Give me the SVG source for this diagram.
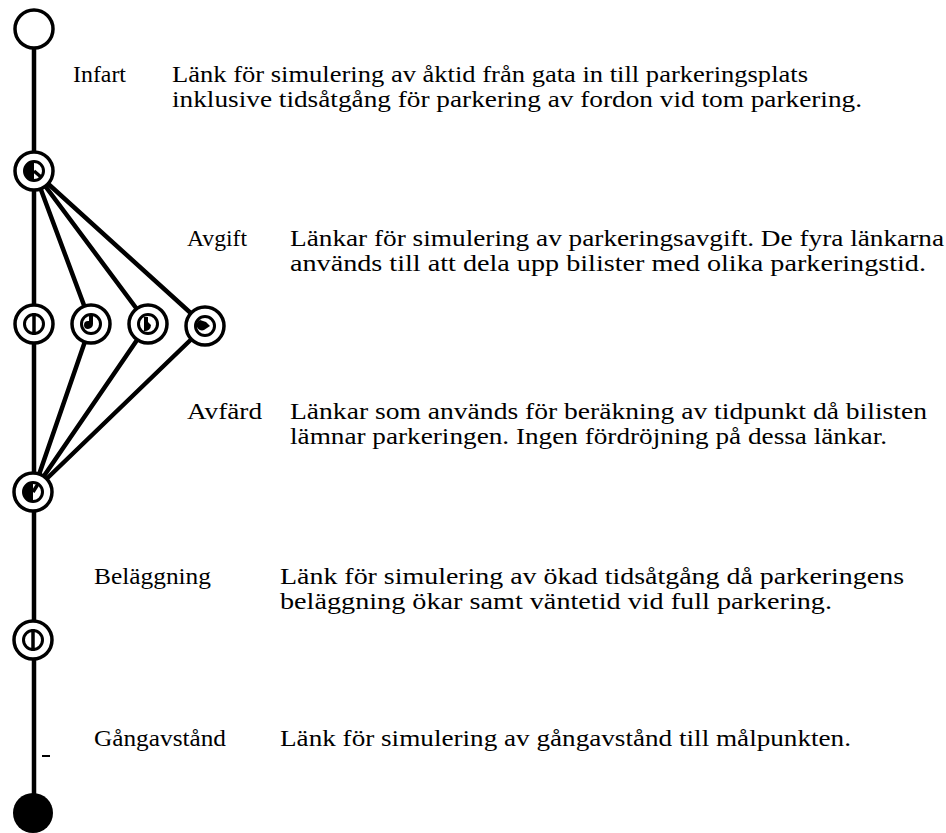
<svg xmlns="http://www.w3.org/2000/svg" width="946" height="833" viewBox="0 0 946 833">
  <style>
    .link { stroke: #000; stroke-width: 4.5; fill: none; stroke-linecap: round; }
    .outer { fill: #fff; stroke: #000; stroke-width: 3.5; }
    .inner { fill: #fff; stroke: #000; stroke-width: 3; }
    .ink { fill: #000; }
    .bar { stroke: #000; stroke-width: 3.5; fill: none; }
    .t { font-family: "Liberation Serif", "Times New Roman", Times, Tinos, "Nimbus Roman", "Nimbus Roman No9 L", FreeSerif, "DejaVu Serif", "Noto Serif", serif; font-size: 24px; fill: #000; }
  </style>

  <!-- links between nodes -->
  <g id="connectors">
    <line class="link" x1="34" y1="40" x2="34" y2="800"/>
    <line class="link" x1="34" y1="171" x2="91" y2="324"/>
    <line class="link" x1="34" y1="171" x2="148" y2="324"/>
    <line class="link" x1="34" y1="171" x2="205" y2="326"/>
    <line class="link" x1="91" y1="324" x2="33" y2="492"/>
    <line class="link" x1="148" y1="324" x2="33" y2="492"/>
    <line class="link" x1="205" y1="326" x2="33" y2="492"/>
    <line x1="42" y1="756" x2="50" y2="756" stroke="#000" stroke-width="2"/>
  </g>

  <!-- origin node -->
  <g id="start">
    <circle class="outer" cx="34" cy="29" r="19" stroke-width="4"/>
  </g>

  <!-- entrance node -->
  <g id="infart-node">
    <circle class="outer" cx="34" cy="171" r="19"/>
    <circle class="inner" cx="34" cy="171" r="9.5"/>
    <path class="ink" d="M34,161.5 A9.5,9.5 0 0 0 34,180.5 Z"/>
    <line class="bar" x1="34" y1="171" x2="41" y2="177" stroke-width="2.5"/>
  </g>

  <!-- fee nodes -->
  <g id="avgift-1">
    <circle class="outer" cx="34" cy="324" r="19"/>
    <circle class="inner" cx="34" cy="324" r="9.5"/>
    <line class="bar" x1="34" y1="313" x2="34" y2="335" stroke-width="4"/>
  </g>
  <g id="avgift-2">
    <circle class="outer" cx="91" cy="324" r="19"/>
    <circle class="inner" cx="91" cy="324" r="9.5"/>
    <path class="ink" d="M91,314.5 L93,314.5 L93,324 A5,5 0 0 1 88,329 A4,4 0 0 1 88,321 L89,321 L89,314.5 Z"/>
  </g>
  <g id="avgift-3">
    <circle class="outer" cx="148" cy="324" r="19"/>
    <circle class="inner" cx="148" cy="324" r="9.5"/>
    <path class="ink" d="M144,317 L148,317 L148,322 L151,325 A6,6 0 0 1 144,331 Z"/>
  </g>
  <g id="avgift-4">
    <circle class="outer" cx="205" cy="326" r="19"/>
    <circle class="inner" cx="205" cy="326" r="9.5"/>
    <path class="ink" d="M200,320 L206,322 L210,326 L204,330 A5,5 0 0 1 200,320 Z"/>
  </g>

  <!-- departure node -->
  <g id="avfard-node">
    <circle class="outer" cx="33" cy="492" r="19"/>
    <circle class="inner" cx="33" cy="492" r="9.5"/>
    <path class="ink" d="M33,482.5 A9.5,9.5 0 0 0 33,501.5 Z"/>
    <line class="bar" x1="33" y1="492" x2="38" y2="484" stroke-width="2.5"/>
  </g>

  <!-- occupancy node -->
  <g id="belaggning-node">
    <circle class="outer" cx="33" cy="640" r="19"/>
    <circle class="inner" cx="33" cy="640" r="9.5"/>
    <line class="bar" x1="33" y1="629" x2="33" y2="651" stroke-width="4"/>
  </g>

  <!-- destination node -->
  <g id="end">
    <circle cx="33" cy="813" r="20" fill="#000"/>
  </g>

  <!-- labels and descriptions -->
  <g id="labels" class="t">
    <text x="73" y="82" textLength="53" lengthAdjust="spacingAndGlyphs">Infart</text>
    <text x="172" y="82" textLength="636" lengthAdjust="spacingAndGlyphs">Länk för simulering av åktid från gata in till parkeringsplats</text>
    <text x="172" y="107" textLength="690" lengthAdjust="spacingAndGlyphs">inklusive tidsåtgång för parkering av fordon vid tom parkering.</text>

    <text x="187" y="246" textLength="60" lengthAdjust="spacingAndGlyphs">Avgift</text>
    <text x="290" y="246" textLength="654" lengthAdjust="spacingAndGlyphs">Länkar för simulering av parkeringsavgift. De fyra länkarna</text>
    <text x="290" y="271" textLength="636" lengthAdjust="spacingAndGlyphs">används till att dela upp bilister med olika parkeringstid.</text>

    <text x="187" y="419" textLength="75" lengthAdjust="spacingAndGlyphs">Avfärd</text>
    <text x="290" y="419" textLength="637" lengthAdjust="spacingAndGlyphs">Länkar som används för beräkning av tidpunkt då bilisten</text>
    <text x="290" y="444" textLength="597" lengthAdjust="spacingAndGlyphs">lämnar parkeringen. Ingen fördröjning på dessa länkar.</text>

    <text x="94" y="584" textLength="117" lengthAdjust="spacingAndGlyphs">Beläggning</text>
    <text x="280" y="584" textLength="624" lengthAdjust="spacingAndGlyphs">Länk för simulering av ökad tidsåtgång då parkeringens</text>
    <text x="280" y="609" textLength="552" lengthAdjust="spacingAndGlyphs">beläggning ökar samt väntetid vid full parkering.</text>

    <text x="94" y="746" textLength="132" lengthAdjust="spacingAndGlyphs">Gångavstånd</text>
    <text x="280" y="746" textLength="571" lengthAdjust="spacingAndGlyphs">Länk för simulering av gångavstånd till målpunkten.</text>
  </g>
</svg>
